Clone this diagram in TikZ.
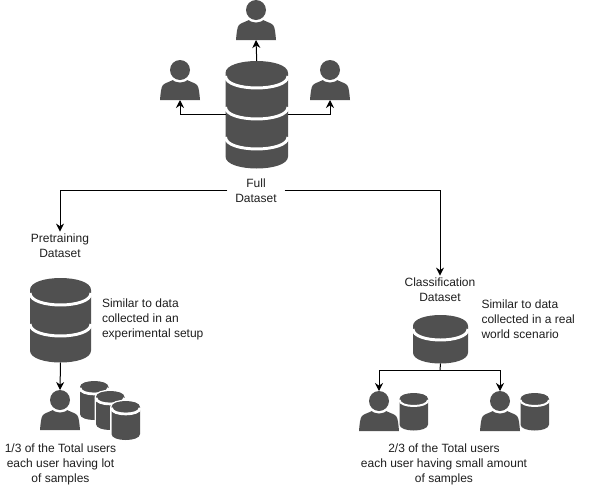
\documentclass[tikz,border=0pt]{standalone}
\usepackage{fontspec}
\setmainfont{Liberation Sans}
\usepackage{xcolor}
\usetikzlibrary{arrows.meta, positioning}
\definecolor{icongray}{RGB}{80, 80, 80}
\definecolor{textgray}{RGB}{30, 30, 30}

% name, left x, top y, width, height, cap radius, band offsets
\newcommand{\dbicon}[8][]{%
    \pgfmathsetmacro{\dbR}{#3+#5}
    \pgfmathsetmacro{\dbB}{#4+#6}
    \pgfmathsetmacro{\dbTc}{#4-0.333*#7}
    \pgfmathsetmacro{\dbBc}{\dbB+0.333*#7}
    \fill[icongray, #1] (#3,#4+#7) .. controls (#3,\dbTc) and (\dbR,\dbTc) .. (\dbR,#4+#7)
        -- (\dbR,\dbB-#7) .. controls (\dbR,\dbBc) and (#3,\dbBc) .. (#3,\dbB-#7) -- cycle;
    \foreach \off in {#8} {
        \draw[bandline, #1] (#3,#4+\off) .. controls (#3,#4+\off+1.33*#7) and (\dbR,#4+\off+1.33*#7) .. (\dbR,#4+\off);
    }
    \node[iconbox, minimum width=#5*0.75pt, minimum height=#6*0.75pt] (#2) at (#3+#5/2,#4+#6/2) {};
}
% name, centre x, top y
\newcommand{\usericon}[3]{%
    \fill[icongray] (#2-20,#3+40) .. controls (#2-19.5,#3+34) and (#2-19,#3+27) .. (#2-17,#3+25)
        .. controls (#2-15,#3+23) and (#2-11,#3+22) .. (#2-7,#3+20)
        -- (#2+7,#3+20) .. controls (#2+11,#3+22) and (#2+15,#3+23) .. (#2+17,#3+25)
        .. controls (#2+19,#3+27) and (#2+19.5,#3+34) .. (#2+20,#3+40) -- cycle;
    \fill[white] (#2,#3+10) circle[radius=12.5*0.75pt];
    \fill[icongray] (#2,#3+10) circle[radius=10*0.75pt];
    \node[iconbox, minimum width=30pt, minimum height=30pt] (#1) at (#2,#3+20) {};
}

\tikzset{
    iconbox/.style={inner sep=0pt, outer sep=0pt},
    bandline/.style={white, line width=2.2pt},
    smalldb/.style={line width=1.5pt},
    stackdb/.style={smalldb, preaction={draw=white, line width=2pt}},
    lbl/.style={inner xsep=6pt, inner ysep=1.5pt, outer sep=0pt, align=center, text=textgray,
        font=\fontsize{9}{11.25}\selectfont},
    side/.style={lbl, align=left, anchor=west, inner xsep=0pt},
    conn/.style={black, line width=0.75pt},
    arr/.style={conn, -{Stealth[length=6pt, width=6pt]}}
}

\begin{document}
\begin{tikzpicture}[x=0.75pt, y=-0.75pt]
    \useasboundingbox (0,0) rectangle (590,486);

    % top group
    \usericon{userTop}{256}{0}
    \usericon{userLeft}{180}{60}
    \usericon{userRight}{330}{60}
    \dbicon{fullDb}{225.5}{61}{62.5}{107.5}{12}{15,46,76}
    \node[lbl] (fullLabel) at (256,190.5) {Full\\Dataset};

    % pretraining side
    \node[lbl] (preLabel) at (60,245.5) {Pretraining\\Dataset};
    \dbicon{preDb}{30}{278}{61}{84.5}{12}{15,46}
    \node[side] (preNote) at (102,319) {Similar to data\\collected in an\\experimental setup};
    \usericon{preUser}{60}{390}
    \dbicon[stackdb]{preStackA}{80}{381}{28.5}{39}{6}{7}
    \dbicon[stackdb]{preStackB}{96}{391}{28.5}{39}{6}{7}
    \dbicon[stackdb]{preStackC}{111.5}{401}{28.5}{39}{6}{7}
    \node[lbl] (preText) at (60.5,464.5) {1/3 of the Total users\\each user having lot\\of samples};

    % classification side
    \node[lbl] (classLabel) at (440,289.5) {Classification\\Dataset};
    \dbicon{classDb}{413}{315}{55}{48.5}{11}{14}
    \node[side] (classNote) at (481.5,319.5) {Similar to data\\collected in a real\\world scenario};
    \coordinate (classSplit) at (440,370);
    \usericon{classUserA}{379}{391}
    \usericon{classUserB}{500}{391}
    \dbicon[smalldb]{classStackA}{399.5}{393}{28.5}{37.5}{6}{7}
    \dbicon[smalldb]{classStackB}{520.5}{393}{28.5}{37.5}{6}{7}
    \node[lbl] (classText) at (444,464) {2/3 of the Total users\\each user having small amount\\of samples};

    % connectors
    \draw[arr] (fullDb.north) -- (userTop.south);
    \draw[arr] (fullDb.west) -| (userLeft.south);
    \draw[arr] (fullDb.east) -| (userRight.south);
    \draw[arr] (fullLabel.west) -| (preLabel.north);
    \draw[arr] (fullLabel.east) -| (classLabel.north);
    \draw[arr] (preDb.south) -- (preUser.north);
    \draw[conn] (classDb.south) -- (classSplit);
    \draw[arr] (classSplit) -| (classUserA.north);
    \draw[arr] (classSplit) -| (classUserB.north);
\end{tikzpicture}
\end{document}
